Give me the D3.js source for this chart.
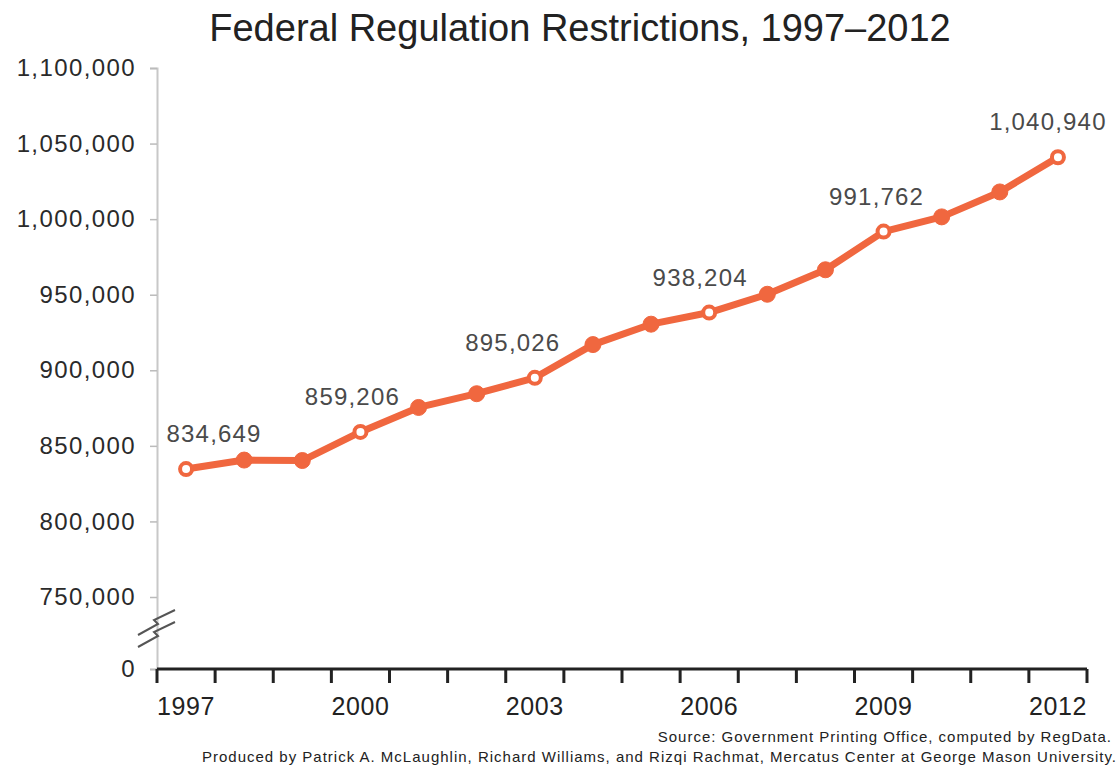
<!DOCTYPE html>
<html>
<head>
<meta charset="utf-8">
<script src="https://cdn.jsdelivr.net/npm/d3@7"></script>
<style>
  body { margin: 0; background: #fff; }
  svg { display: block; font-family: "Liberation Sans", Arial, sans-serif; }
</style>
</head>
<body>
<script>
// data
var years = [1997, 1998, 1999, 2000, 2001, 2002, 2003, 2004, 2005, 2006, 2007, 2008, 2009, 2010, 2011, 2012];
var restrictions = [834649, 840600, 840300, 859206, 875400, 884500, 895026, 917000, 930500, 938204, 950300, 966500, 991762, 1001500, 1018000, 1040940];
var labelledYears = [1997, 2000, 2003, 2006, 2009, 2012];
var xTickLabels = [1997, 2000, 2003, 2006, 2009, 2012];
var yTicks = [0, 750000, 800000, 850000, 900000, 950000, 1000000, 1050000, 1100000];

var W = 1116, H = 766;
var orange = "#f0673f";

var svg = d3.select("body").append("svg")
    .attr("width", W)
    .attr("height", H);

// band scale for years, point sits in the middle of each band
var x = d3.scaleBand().domain(years).range([157, 1087]);
// broken y axis: 0 squeezed under 750,000
var y = d3.scaleLinear().domain([0, 750000, 1100000]).range([669, 597, 68]);

var fmt = d3.format(",");

// title
svg.append("text")
    .attr("x", 580)
    .attr("y", 41)
    .attr("text-anchor", "middle")
    .style("font-size", "38px")
    .style("fill", "#222")
    .text("Federal Regulation Restrictions, 1997\u20132012");

// y axis
var yAxis = svg.append("g")
    .attr("transform", "translate(157,0)")
    .call(d3.axisLeft(y).tickValues(yTicks).tickFormat(fmt).tickSize(7).tickPadding(14));
yAxis.select(".domain").attr("stroke", "#c8c8c8").attr("stroke-width", 2);
yAxis.selectAll(".tick line").attr("stroke", "#bbb").attr("stroke-width", 1.5);
yAxis.selectAll(".tick text")
    .style("font-size", "24px")
    .style("letter-spacing", "1.4px")
    .style("fill", "#2a2a2a");

// break mark on the y axis
var brk = svg.append("g").attr("transform", "translate(157,634)");
[-6, 6].forEach(function(o) {
    brk.append("path")
        .attr("d", "M-19," + (o + 7) + " L1," + (o - 4) + " L-3," + (o - 8) + " L18," + (o - 18))
        .attr("fill", "none")
        .attr("stroke", "#555")
        .attr("stroke-width", 2);
});

// x axis: ticks on band edges
var xAxis = svg.append("g").attr("transform", "translate(0,669)");
xAxis.append("line")
    .attr("x1", 157).attr("x2", 1087)
    .attr("stroke", "#222").attr("stroke-width", 3);
var edges = years.map(function(d) { return x(d); }).concat([x.range()[1]]);
xAxis.selectAll("line.tk")
    .data(edges)
    .enter().append("line")
    .attr("class", "tk")
    .attr("x1", function(d) { return d; })
    .attr("x2", function(d) { return d; })
    .attr("y1", 0).attr("y2", 14)
    .attr("stroke", "#222").attr("stroke-width", 3);
xAxis.selectAll("text")
    .data(xTickLabels)
    .enter().append("text")
    .attr("x", function(d) { return x(d) + x.bandwidth() / 2; })
    .attr("y", 46)
    .attr("text-anchor", "middle")
    .style("font-size", "25px")
    .style("letter-spacing", "0.6px")
    .style("fill", "#222")
    .text(function(d) { return d; });

// the line
var pts = years.map(function(d, i) { return { year: d, value: restrictions[i] }; });
var line = d3.line()
    .x(function(d) { return x(d.year) + x.bandwidth() / 2; })
    .y(function(d) { return y(d.value); });

svg.append("path")
    .datum(pts)
    .attr("d", line)
    .attr("fill", "none")
    .attr("stroke", orange)
    .attr("stroke-width", 7)
    .attr("stroke-linejoin", "round");

// markers: hollow where labelled, filled elsewhere
var isLab = function(d) { return labelledYears.indexOf(d.year) >= 0; };
svg.selectAll("circle.pt")
    .data(pts)
    .enter().append("circle")
    .attr("class", "pt")
    .attr("cx", function(d) { return x(d.year) + x.bandwidth() / 2; })
    .attr("cy", function(d) { return y(d.value); })
    .attr("r", function(d) { return isLab(d) ? 6 : 8; })
    .attr("fill", function(d) { return isLab(d) ? "#fff" : orange; })
    .attr("stroke", orange)
    .attr("stroke-width", function(d) { return isLab(d) ? 4 : 1; });

// value labels
var labelShift = { 1997: 28, 2000: -8, 2003: -22, 2006: -9, 2009: -7, 2012: -10 };
svg.selectAll("text.val")
    .data(pts.filter(isLab))
    .enter().append("text")
    .attr("class", "val")
    .attr("x", function(d) { return x(d.year) + x.bandwidth() / 2 + labelShift[d.year]; })
    .attr("y", function(d) { return y(d.value) - 27; })
    .attr("text-anchor", "middle")
    .style("font-size", "24px")
    .style("letter-spacing", "1.2px")
    .style("fill", "#4a4a4a")
    .text(function(d) { return fmt(d.value); });

// source notes
svg.append("text")
    .attr("x", 1112).attr("y", 742)
    .attr("text-anchor", "end")
    .style("font-size", "15px")
    .style("letter-spacing", "1px")
    .style("fill", "#222")
    .text("Source: Government Printing Office, computed by RegData.");
svg.append("text")
    .attr("x", 1117).attr("y", 762)
    .attr("text-anchor", "end")
    .style("font-size", "15px")
    .style("letter-spacing", "1px")
    .style("fill", "#222")
    .text("Produced by Patrick A. McLaughlin, Richard Williams, and Rizqi Rachmat, Mercatus Center at George Mason University.");
</script>
</body>
</html>
